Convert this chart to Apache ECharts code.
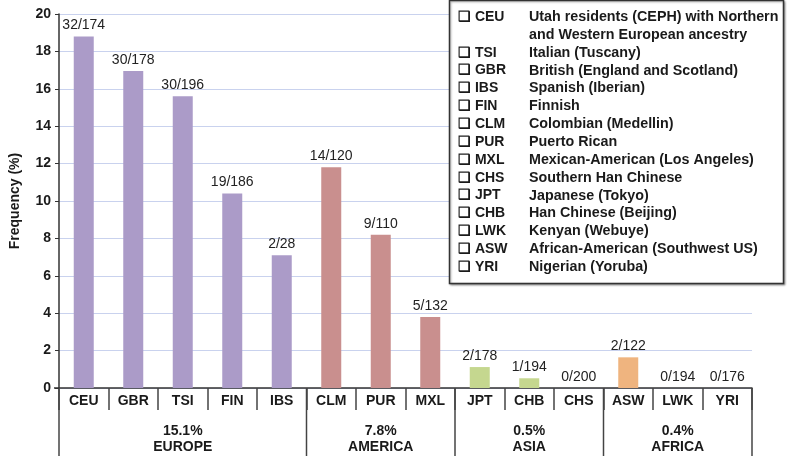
<!DOCTYPE html>
<html><head><meta charset="utf-8">
<script src="https://cdn.jsdelivr.net/npm/echarts@6/dist/echarts.min.js"></script>
<style>html,body{margin:0;padding:0;background:#fff}#c{width:787px;height:456px}</style>
</head><body><div id="c"></div>
<script>
var categories = ['CEU','GBR','TSI','FIN','IBS','CLM','PUR','MXL','JPT','CHB','CHS','ASW','LWK','YRI'];
var values = [18.8, 16.95, 15.6, 10.4, 7.1, 11.8, 8.2, 3.8, 1.12, 0.52, 0, 1.64, 0, 0];
var counts = ['32/174','30/178','30/196','19/186','2/28','14/120','9/110','5/132','2/178','1/194','0/200','2/122','0/194','0/176'];
var regionOf = [0,0,0,0,0,1,1,1,2,2,2,3,3,3];
var regionNames = ['EUROPE','AMERICA','ASIA','AFRICA'];
var regionPct = ['15.1%','7.8%','0.5%','0.4%'];
var regionColors = ['#ab9bc8','#c98f8e','#c5d78f','#efb47f'];
var yTicks = [0,2,4,6,8,10,12,14,16,18,20];
var legendCodes = ['CEU','','TSI','GBR','IBS','FIN','CLM','PUR','MXL','CHS','JPT','CHB','LWK','ASW','YRI'];
var legendDesc = ['Utah residents (CEPH) with Northern','and Western European ancestry','Italian (Tuscany)','British (England and Scotland)','Spanish (Iberian)','Finnish','Colombian (Medellin)','Puerto Rican','Mexican-American (Los Angeles)','Southern Han Chinese','Japanese (Tokyo)','Han Chinese (Beijing)','Kenyan (Webuye)','African-American (Southwest US)','Nigerian (Yoruba)'];

var FONT = 'Arial, Liberation Sans, Helvetica, sans-serif';
var chart = echarts.init(document.getElementById('c'));

var regionMid = {};
(function(){
  var first = {}, last = {};
  regionOf.forEach(function(r,i){ if(first[r]===undefined) first[r]=i; last[r]=i; });
  for (var r in first) regionMid[Math.floor((first[r]+last[r])/2)] = +r;
})();

var legendGraphics = [];
legendGraphics.push({type:'rect', shape:{x:449.5,y:0.5,width:334,height:283}, style:{fill:'#fff',stroke:'#333',lineWidth:1.5, shadowBlur:2, shadowColor:'rgba(0,0,0,0.35)', shadowOffsetX:1, shadowOffsetY:1}, z:100});
legendCodes.forEach(function(c,i){
  var y = 17 + i*17.86;
  if (c) legendGraphics.push({type:'text', x:458, y:y, style:{text:'\u2751 '+c, font:'bold 14px '+FONT, fill:'#1a1a1a', verticalAlign:'middle'}, z:101});
  legendGraphics.push({type:'text', x:529, y:y, style:{text:legendDesc[i], font:'bold 14.3px '+FONT, fill:'#1a1a1a', verticalAlign:'middle'}, z:101});
});

chart.setOption({
  animation:false,
  grid:{left:52, right:35, top:14, bottom:68},
  xAxis:[{
    type:'category', data:categories, position:'bottom',
    axisLine:{lineStyle:{color:'#333', width:1.5}},
    axisTick:{show:true, length:22, lineStyle:{color:'#444', width:1.5}},
    axisLabel:{interval:0, fontFamily:FONT, fontWeight:'bold', fontSize:14, color:'#1a1a1a', margin:6}
  },{
    type:'category', data:categories, position:'bottom', offset:0,
    axisLine:{show:false}, axisTick:{show:false},
    axisLabel:{interval:0, margin:35, fontFamily:FONT, fontWeight:'bold', fontSize:14, color:'#1a1a1a', lineHeight:16,
      formatter:function(v, i){ return regionMid[i]!==undefined ? regionPct[regionMid[i]]+'\n'+regionNames[regionMid[i]] : ''; }}
  }],
  yAxis:{
    type:'value', min:yTicks[0], max:yTicks[yTicks.length-1], interval:2,
    name:'Frequency (%)', nameLocation:'middle', nameGap:37,
    nameTextStyle:{fontFamily:FONT, fontWeight:'bold', fontSize:14, color:'#1a1a1a'},
    axisLine:{show:true, lineStyle:{color:'#333', width:1.5}},
    axisTick:{show:true, length:4, lineStyle:{color:'#333'}},
    axisLabel:{fontFamily:FONT, fontWeight:'bold', fontSize:14, color:'#1a1a1a', margin:8},
    splitLine:{lineStyle:{color:'#c9d2ee', width:1.2}}
  },
  series:[{
    type:'bar', barWidth:20, xAxisIndex:0,
    data:values.map(function(v,i){ return {value:v, itemStyle:{color:regionColors[regionOf[i]]}}; }),
    label:{show:true, position:'top', distance:4, fontFamily:FONT, fontSize:14, color:'#222',
      formatter:function(p){ return counts[p.dataIndex]; }}
  }],
  graphic: legendGraphics
});

var g = legendGraphics.slice();
var y0 = chart.convertToPixel({yAxisIndex:0}, 0);
var step = chart.convertToPixel({xAxisIndex:0}, categories[1]) - chart.convertToPixel({xAxisIndex:0}, categories[0]);
var bounds = [];
regionOf.forEach(function(r,i){ if(i===0 || regionOf[i-1]!==r) bounds.push(i); });
bounds.push(categories.length);
bounds.forEach(function(b){
  var x = chart.convertToPixel({xAxisIndex:0}, categories[0]) + (b-0.5)*step;
  g.push({type:'line', shape:{x1:x,y1:y0,x2:x,y2:456}, style:{stroke:'#444', lineWidth:1.5}, z:50});
});
var xl = chart.convertToPixel({xAxisIndex:0}, categories[0]) - 0.5*step;
g.push({type:'line', shape:{x1:xl-5,y1:y0,x2:xl,y2:y0}, style:{stroke:'#333', lineWidth:1.5}, z:50});
chart.setOption({graphic:g}, {replaceMerge:['graphic']});
</script></body></html>
